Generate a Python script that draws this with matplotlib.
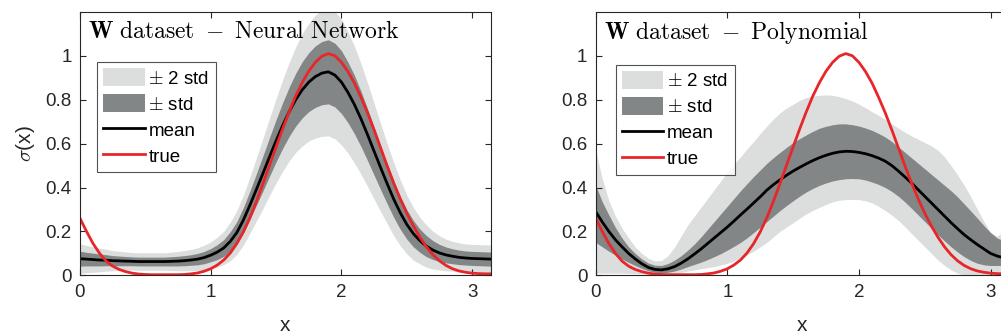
import numpy as np
import matplotlib
matplotlib.use("Agg")
import matplotlib.pyplot as plt
from matplotlib.patches import Patch
from matplotlib.lines import Line2D
from matplotlib.ticker import FuncFormatter

# ---------------- data (every 0.05 in x) ----------------
x_grid = [0.00, 0.05, 0.10, 0.15, 0.20, 0.25, 0.30, 0.35, 0.40, 0.45,
          0.50, 0.55, 0.60, 0.65, 0.70, 0.75, 0.80, 0.85, 0.90, 0.95,
          1.00, 1.05, 1.10, 1.15, 1.20, 1.25, 1.30, 1.35, 1.40, 1.45,
          1.50, 1.55, 1.60, 1.65, 1.70, 1.75, 1.80, 1.85, 1.90, 1.95,
          2.00, 2.05, 2.10, 2.15, 2.20, 2.25, 2.30, 2.35, 2.40, 2.45,
          2.50, 2.55, 2.60, 2.65, 2.70, 2.75, 2.80, 2.85, 2.90, 2.95,
          3.00, 3.05, 3.10, 3.1416]

true_sigma = [0.26, 0.20, 0.145, 0.10, 0.065, 0.042, 0.027, 0.017, 0.01, 0.006,
              0.004, 0.003, 0.003, 0.003, 0.003, 0.003, 0.004, 0.007, 0.011, 0.019,
              0.03, 0.047, 0.07, 0.102, 0.145, 0.198, 0.262, 0.337, 0.418, 0.502,
              0.585, 0.667, 0.745, 0.817, 0.878, 0.93, 0.97, 0.998, 1.01, 1.0,
              0.97, 0.928, 0.875, 0.81, 0.74, 0.662, 0.58, 0.498, 0.42, 0.348,
              0.283, 0.225, 0.174, 0.13, 0.094, 0.066, 0.045, 0.03, 0.02, 0.014,
              0.01, 0.008, 0.007, 0.007]

# Neural network: mean and standard deviation
nn_mean = [0.076, 0.074, 0.072, 0.070, 0.069, 0.067, 0.066, 0.065, 0.064, 0.063,
           0.063, 0.063, 0.063, 0.063, 0.064, 0.065, 0.067, 0.070, 0.074, 0.081,
           0.092, 0.106, 0.125, 0.155, 0.195, 0.252, 0.32, 0.392, 0.465, 0.54,
           0.613, 0.682, 0.745, 0.80, 0.845, 0.88, 0.905, 0.921, 0.927, 0.912,
           0.88, 0.833, 0.777, 0.712, 0.64, 0.565, 0.49, 0.417, 0.347, 0.285,
           0.232, 0.19, 0.158, 0.133, 0.115, 0.102, 0.093, 0.087, 0.082, 0.079,
           0.077, 0.076, 0.075, 0.074]
nn_std = [0.034, 0.031, 0.029, 0.027, 0.025, 0.023, 0.022, 0.021, 0.02, 0.02,
          0.02, 0.02, 0.02, 0.02, 0.021, 0.022, 0.023, 0.024, 0.026, 0.028,
          0.03, 0.034, 0.038, 0.044, 0.05, 0.057, 0.064, 0.072, 0.08, 0.088,
          0.096, 0.104, 0.112, 0.12, 0.128, 0.134, 0.14, 0.144, 0.146, 0.145,
          0.143, 0.138, 0.133, 0.126, 0.118, 0.109, 0.1, 0.091, 0.083, 0.075,
          0.067, 0.06, 0.053, 0.048, 0.043, 0.039, 0.036, 0.034, 0.033, 0.032,
          0.032, 0.032, 0.032, 0.032]

# Polynomial: mean and band edges
poly_mean = [0.29, 0.243, 0.2, 0.162, 0.13, 0.1, 0.075, 0.053, 0.036, 0.027,
             0.025, 0.03, 0.04, 0.056, 0.075, 0.097, 0.12, 0.145, 0.17, 0.195,
             0.22, 0.247, 0.275, 0.302, 0.33, 0.358, 0.388, 0.413, 0.435, 0.456,
             0.475, 0.492, 0.508, 0.523, 0.536, 0.547, 0.556, 0.562, 0.565, 0.564,
             0.56, 0.554, 0.545, 0.534, 0.52, 0.5, 0.475, 0.448, 0.42, 0.39,
             0.36, 0.33, 0.3, 0.27, 0.24, 0.212, 0.185, 0.162, 0.14, 0.12,
             0.1, 0.088, 0.08, 0.075]
poly_hi1 = [0.41, 0.335, 0.275, 0.218, 0.17, 0.13, 0.1, 0.075, 0.056, 0.046,
            0.045, 0.054, 0.07, 0.09, 0.115, 0.143, 0.175, 0.21, 0.245, 0.28,
            0.315, 0.35, 0.385, 0.418, 0.45, 0.48, 0.51, 0.536, 0.56, 0.583,
            0.605, 0.623, 0.64, 0.656, 0.67, 0.679, 0.686, 0.69, 0.69, 0.686,
            0.68, 0.671, 0.66, 0.646, 0.63, 0.609, 0.585, 0.56, 0.535, 0.51,
            0.485, 0.46, 0.435, 0.41, 0.385, 0.357, 0.325, 0.293, 0.26, 0.226,
            0.195, 0.17, 0.158, 0.155]
poly_lo1 = [0.15, 0.13, 0.11, 0.092, 0.075, 0.059, 0.045, 0.032, 0.021, 0.014,
            0.012, 0.014, 0.02, 0.029, 0.04, 0.05, 0.06, 0.072, 0.085, 0.099,
            0.115, 0.132, 0.15, 0.171, 0.195, 0.22, 0.245, 0.27, 0.295, 0.318,
            0.34, 0.361, 0.38, 0.396, 0.41, 0.421, 0.43, 0.436, 0.44, 0.441,
            0.44, 0.434, 0.425, 0.414, 0.4, 0.382, 0.36, 0.334, 0.305, 0.275,
            0.245, 0.215, 0.185, 0.157, 0.13, 0.106, 0.085, 0.068, 0.055, 0.048,
            0.045, 0.045, 0.045, 0.045]
poly_hi2 = [0.57, 0.44, 0.34, 0.27, 0.215, 0.17, 0.13, 0.1, 0.078, 0.066,
            0.068, 0.09, 0.13, 0.18, 0.23, 0.27, 0.31, 0.35, 0.39, 0.43,
            0.47, 0.506, 0.54, 0.576, 0.61, 0.646, 0.68, 0.712, 0.74, 0.762,
            0.78, 0.797, 0.81, 0.817, 0.82, 0.822, 0.82, 0.814, 0.805, 0.794,
            0.78, 0.763, 0.745, 0.728, 0.71, 0.69, 0.67, 0.652, 0.635, 0.62,
            0.605, 0.59, 0.57, 0.54, 0.5, 0.457, 0.41, 0.357, 0.3, 0.245,
            0.195, 0.178, 0.2, 0.2]
poly_lo2 = [0.01, 0.01, 0.01, 0.01, 0.01, 0.009, 0.008, 0.006, 0.005, 0.005,
            0.005, 0.006, 0.008, 0.013, 0.02, 0.025, 0.03, 0.035, 0.04, 0.047,
            0.055, 0.066, 0.08, 0.094, 0.11, 0.13, 0.15, 0.175, 0.2, 0.22,
            0.24, 0.26, 0.28, 0.296, 0.31, 0.323, 0.335, 0.342, 0.345, 0.346,
            0.345, 0.339, 0.33, 0.314, 0.295, 0.274, 0.25, 0.221, 0.19, 0.16,
            0.13, 0.1, 0.07, 0.045, 0.025, 0.01, 0.0, 0.0, 0.0, 0.0,
            0.0, 0.0, 0.0, 0.0]

titles = [r"$\mathbf{W}\ \mathrm{dataset}\ -\ \mathrm{Neural\ Network}$",
          r"$\mathbf{W}\ \mathrm{dataset}\ -\ \mathrm{Polynomial}$"]
legend_labels = [r"$\pm$ 2 std", r"$\pm$ std", "mean", "true"]
x_ticks = [0, 1, 2, 3]
y_ticks = [0, 0.2, 0.4, 0.6, 0.8, 1.0]

# ---------------- style ----------------
plt.rcParams["font.family"] = ["Liberation Sans", "DejaVu Sans"]
plt.rcParams["mathtext.fontset"] = "cm"

LIGHT = "#dcdedd"
DARK = "#838686"
RED = "#e8262a"
AXC = "#262626"

fig = plt.figure(figsize=(10.01, 3.35), dpi=100)
ax1 = fig.add_axes([0.0799, 0.178, 0.4103, 0.7866])
ax2 = fig.add_axes([0.5951, 0.178, 0.4131, 0.7866])

xg = np.array(x_grid)
nm = np.array(nn_mean)
ns = np.array(nn_std)
bands = [
    (np.clip(nm - 2 * ns, 0, None), nm + 2 * ns, np.clip(nm - ns, 0, None), nm + ns, nm),
    (np.array(poly_lo2), np.array(poly_hi2), np.array(poly_lo1), np.array(poly_hi1),
     np.array(poly_mean)),
]
leg_pos = [(0.041, 0.81), (0.048, 0.80)]

for i, ax in enumerate([ax1, ax2]):
    lo2, hi2, lo1, hi1, mean = bands[i]
    ax.fill_between(xg, lo2, hi2, color=LIGHT, linewidth=0, zorder=1)
    ax.fill_between(xg, lo1, hi1, color=DARK, linewidth=0, zorder=2)
    ax.plot(xg, mean, color="black", lw=2.0, zorder=3, solid_joinstyle="round")
    ax.plot(xg, true_sigma, color=RED, lw=2.0, zorder=4, solid_joinstyle="round")
    ax.set_xlim(0, np.pi)
    ax.set_ylim(0, 1.2)
    ax.set_xticks(x_ticks)
    ax.set_yticks(y_ticks)
    ax.yaxis.set_major_formatter(FuncFormatter(lambda v, p: f"{v:g}"))
    ax.tick_params(direction="in", top=True, right=True, length=4, width=0.8,
                   colors=AXC, labelsize=13.5, pad=6)
    for s in ax.spines.values():
        s.set_color(AXC)
        s.set_linewidth(0.8)
        s.set_zorder(5)
    ax.text(0.02, 0.922, titles[i], transform=ax.transAxes, fontsize=17,
            ha="left", va="center", color="black", zorder=6)
    ax.set_xlabel("x", fontsize=15, color=AXC, labelpad=11)
    handles = [Patch(facecolor=LIGHT, edgecolor="none"),
               Patch(facecolor=DARK, edgecolor="none"),
               Line2D([0], [0], color="black", lw=2.0),
               Line2D([0], [0], color=RED, lw=2.0)]
    leg = ax.legend(handles, legend_labels, loc="upper left",
                    bbox_to_anchor=leg_pos[i], borderaxespad=0,
                    fontsize=13.5, frameon=True, fancybox=False,
                    handlelength=2.2, handleheight=1.1, handletextpad=0.2,
                    labelspacing=0.35, borderpad=0.35)
    leg.get_frame().set_edgecolor(AXC)
    leg.get_frame().set_linewidth(0.8)
    leg.set_zorder(7)

ax1.set_ylabel(r"$\sigma$(x)", fontsize=15, color=AXC, labelpad=6)

fig.savefig("out.png", dpi=100)
